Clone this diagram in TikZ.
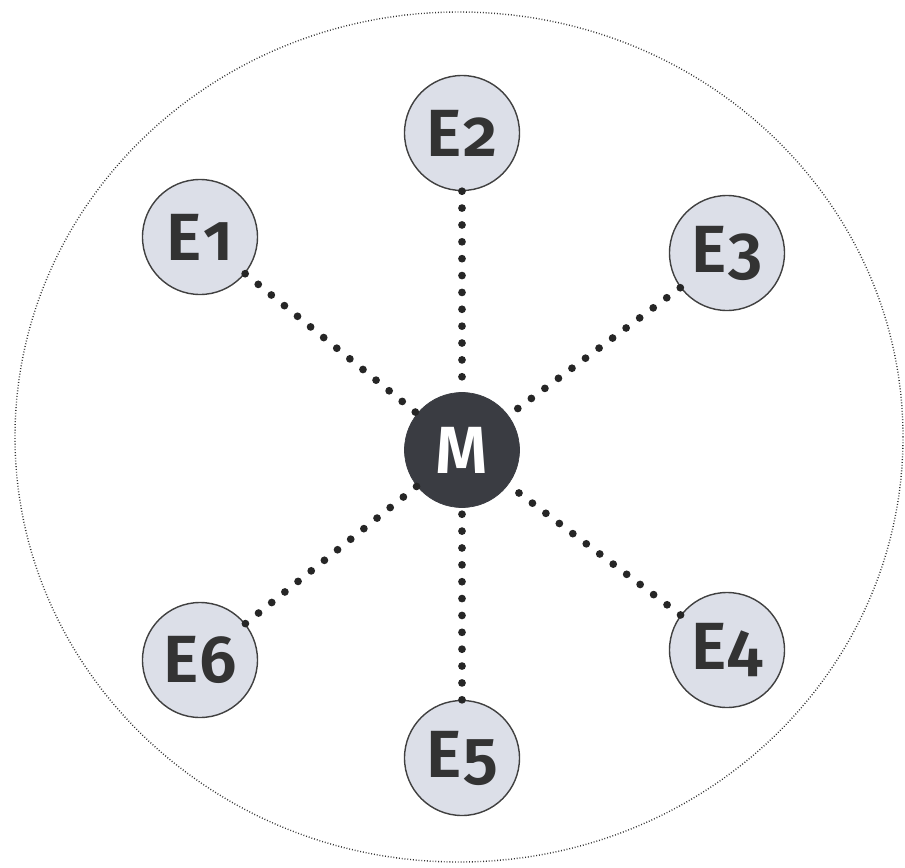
\documentclass[tikz,border=0pt]{standalone}
\usepackage{fontspec}
\newfontfamily\nodefont{Fira Sans}[Numbers=OldStyle, BoldFont={Fira Sans SemiBold}]
\usepackage{tikz}
\definecolor{nodegray}{HTML}{DCDFE8}
\definecolor{darkcore}{HTML}{3A3C42}
\definecolor{textgray}{HTML}{333333}
\newcommand{\elabel}[1]{E\kern0.02em#1}

\begin{document}
\begin{tikzpicture}[
                font=\nodefont\bfseries\fontsize{38}{38}\selectfont,
                ebox/.style={circle, draw=black!75, line width=0.8pt, fill=nodegray, text=textgray, minimum size=2.3cm, inner sep=0pt},
                mbox/.style={circle, draw=darkcore, fill=darkcore, text=white, minimum size=2.3cm, inner sep=0pt},
                link/.style={line width=4.4pt, line cap=round, dash pattern=on 0pt off 9.6pt, black!85},
            ]
            \useasboundingbox (-9.24,-8.34) rectangle (8.86,9.0);
            \draw[black!80, line width=0.8pt, dash pattern=on 0.5pt off 1.1pt] (-0.06,0.26) ellipse (8.88cm and 8.5cm);

            \node[mbox] (m) at (0,0) {M};
            \node[ebox] (e1) at (-5.24,4.26) {\elabel{1}};
            \node[ebox] (e2) at (0,6.34) {\elabel{2}};
            \node[ebox] (e3) at (5.3,3.94) {\elabel{3}};
            \node[ebox] (e4) at (5.3,-4.0) {\elabel{4}};
            \node[ebox] (e5) at (0,-6.16) {\elabel{5}};
            \node[ebox] (e6) at (-5.24,-4.2) {\elabel{6}};

            \draw[link] (e1) -- (m);
            \draw[link] (e2) -- (m);
            \draw[link] (e3) -- (m);
            \draw[link] (e4) -- (m);
            \draw[link] (e5) -- (m);
            \draw[link] (e6) -- (m);
        \end{tikzpicture}
\end{document}
